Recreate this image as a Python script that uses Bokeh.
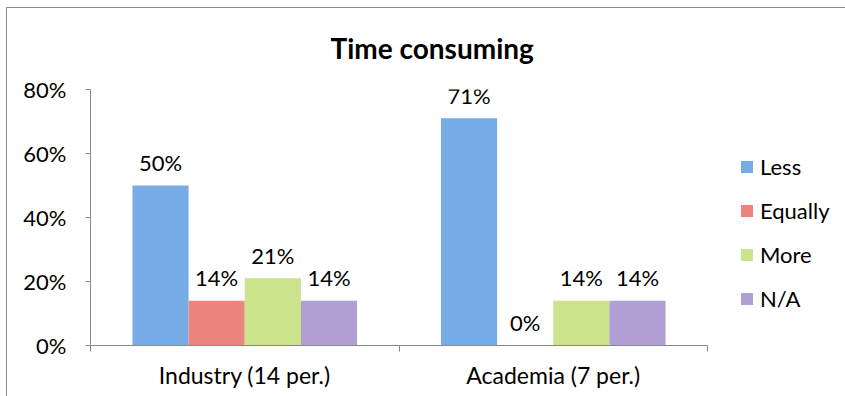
import numpy as np
from bokeh.plotting import figure
from bokeh.models import (ColumnDataSource, Range1d, FixedTicker, NumeralTickFormatter,
                          Legend, LegendItem)
from bokeh.core.properties import value
from bokeh.embed import file_html
from bokeh.resources import INLINE

categories = ["Industry (14 per.)", "Academia (7 per.)"]
series = ["Less", "Equally", "More", "N/A"]
less = [0.50, 0.71]
equally = [0.14, 0.00]
more = [0.21, 0.14]
na = [0.14, 0.14]
y_ticks = [0.0, 0.2, 0.4, 0.6, 0.8]
colors = ["#78ace6", "#ec8580", "#cbe48c", "#b29fd5"]

values = [less, equally, more, na]
FONT = "Lato"
TXT = "22px"

W, H = 845, 396
LEFT, AXIS_RIGHT = 90, 707
n = len(categories)
x_end = n * (W - LEFT) / (AXIS_RIGHT - LEFT)

p = figure(width=W, height=H, x_range=Range1d(0, x_end), y_range=Range1d(0, 0.8),
           output_backend="svg", toolbar_location=None,
           min_border_left=LEFT, min_border_right=0, min_border_top=89, min_border_bottom=51)
p.border_fill_color = None
p.background_fill_color = None
p.styles = {
    "background": "linear-gradient(#8c8c8c,#8c8c8c) 6px 7px / 1px 100% no-repeat, "
                  "linear-gradient(#8c8c8c,#8c8c8c) 6px 7px / 100% 1px no-repeat, white",
}

p.title.text = "Time consuming"
p.title.align = "left"
p.title.offset = 240
p.title.standoff = 46
p.title.vertical_align = "top"
p.title.text_font = FONT
p.title.text_font_size = "28px"
p.title.text_font_style = "bold"
p.title.text_color = "black"

bar_w = 0.182
centers = np.arange(n) + 0.5
items = []
for i, (name, vals, col) in enumerate(zip(series, values, colors)):
    xs = centers + (i - (len(series) - 1) / 2) * bar_w
    src = ColumnDataSource(dict(x=xs, top=vals, label=[f"{round(v * 100)}%" for v in vals]))
    r = p.vbar(x="x", top="top", width=bar_w, bottom=0, source=src, fill_color=col, line_color=None)
    p.text(x="x", y="top", text="label", source=src, text_align="center", text_baseline="middle",
           y_offset=-23, text_font=value(FONT), text_font_size=TXT, text_color="black")
    items.append(LegendItem(label=name, renderers=[r]))

legend = Legend(items=items, location=(649, 33), padding=0, margin=0, spacing=17,
                glyph_width=15, glyph_height=15, label_height=22, label_standoff=6,
                label_text_font=FONT, label_text_font_size=TXT, label_text_color="black",
                border_line_color=None, background_fill_alpha=0)
p.add_layout(legend, "center")

p.xgrid.grid_line_color = None
p.ygrid.grid_line_color = None
p.outline_line_color = None

ax = p.xaxis[0]
ax.bounds = (0, n)
ax.ticker = FixedTicker(ticks=list(centers), minor_ticks=list(np.arange(n + 1)))
ax.major_label_overrides = {float(c): cat for c, cat in zip(centers, categories)}
ax.major_tick_out = 0
ax.major_tick_in = 0
ax.minor_tick_out = 6
ax.minor_tick_in = 0
ax.minor_tick_line_color = "#888888"
ax.axis_line_color = "#888888"
ax.major_label_standoff = 9
ax.major_label_text_font = FONT
ax.major_label_text_font_size = "23px"
ax.major_label_text_color = "black"

ay = p.yaxis[0]
ay.ticker = FixedTicker(ticks=y_ticks)
ay.formatter = NumeralTickFormatter(format="0%")
ay.major_tick_out = 5
ay.major_tick_in = 0
ay.minor_tick_line_color = None
ay.major_tick_line_color = "#888888"
ay.axis_line_color = "#888888"
ay.major_label_standoff = 19
ay.major_label_text_font = FONT
ay.major_label_text_font_size = TXT
ay.major_label_text_color = "black"

open("out.html", "w").write(file_html(p, INLINE))
